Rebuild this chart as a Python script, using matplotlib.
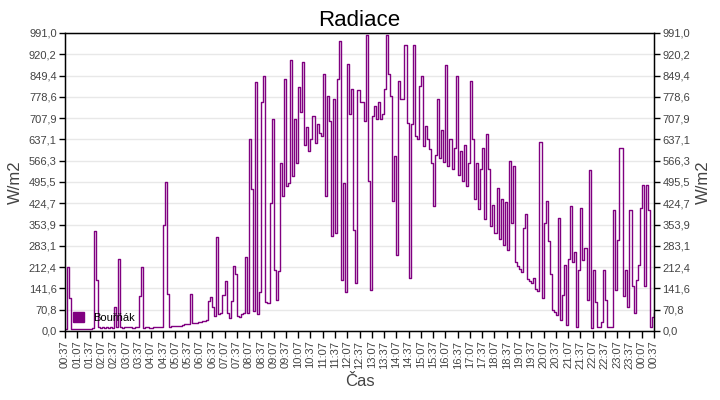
import numpy as np
import matplotlib
matplotlib.use('Agg')
import matplotlib.pyplot as plt
from matplotlib.patches import Patch

plt.rcParams['font.family'] = ['Liberation Sans', 'DejaVu Sans']

# radiace v W/m2, vzorek kazdych 5 minut od 00:37
sample_minutes = 5
radiation = [
    # 00:37
    8, 214, 111, 8, 8, 8, 8, 8, 8, 8, 8, 8,
    # 01:37
    8, 10, 332, 170, 12, 10, 12, 10, 12, 10, 12, 10,
    # 02:37
    81, 12, 239, 12, 10, 12, 14, 12, 12, 10, 12, 12,
    # 03:37
    116, 214, 10, 12, 12, 10, 10, 12, 12, 12, 12, 12,
    # 04:37
    352, 495, 122, 14, 15, 15, 16, 17, 18, 20, 22, 23,
    # 05:37
    24, 122, 26, 27, 28, 30, 31, 33, 34, 36, 100, 114,
    # 06:37
    80, 50, 313, 55, 60, 120, 165, 60, 42, 100, 215, 190,
    # 07:37
    50, 45, 55, 60, 246, 60, 638, 471, 65, 827, 55, 131,
    # 08:37
    760, 849, 95, 92, 426, 704, 204, 103, 200, 560, 448, 838,
    # 09:37
    482, 493, 902, 515, 704, 560, 810, 727, 894, 620, 680, 600,
    # 10:37
    640, 715, 626, 690, 660, 650, 855, 448, 782, 700, 315, 770,
    # 11:37
    326, 838, 966, 170, 493, 131, 888, 720, 805, 337, 159, 800,
    # 12:37
    760, 760, 700, 983, 500, 137, 716, 749, 705, 760, 705, 720,
    # 13:37
    805, 983, 855, 780, 432, 582, 254, 830, 770, 771, 950, 693,
    # 14:37
    176, 688, 950, 650, 640, 815, 849, 615, 682, 638, 604, 560,
    # 15:37
    415, 585, 771, 574, 670, 562, 883, 550, 640, 538, 610, 849,
    # 16:37
    520, 600, 500, 620, 482, 560, 832, 640, 440, 560, 405, 540,
    # 17:37
    610, 373, 654, 540, 348, 420, 327, 476, 306, 440, 286, 430,
    # 18:37
    268, 565, 360, 550, 228, 217, 206, 195, 343, 390, 174, 167,
    # 19:37
    158, 175, 141, 132, 627, 111, 360, 432, 300, 190, 71, 62,
    # 20:37
    53, 377, 35, 120, 220, 20, 240, 415, 230, 262, 14, 204,
    # 21:37
    410, 237, 276, 103, 537, 9, 204, 98, 13, 13, 31, 204,
    # 22:37
    103, 13, 13, 13, 404, 137, 304, 610, 610, 115, 204, 81,
    # 23:37
    404, 148, 59, 170, 220, 410, 487, 148, 487, 404, 14, 48, 60,
]

time_labels = [
    '00:37', '01:07', '01:37', '02:07', '02:37', '03:07', '03:37', '04:07',
    '04:37', '05:07', '05:37', '06:07', '06:37', '07:07', '07:37', '08:07',
    '08:37', '09:07', '09:37', '10:07', '10:37', '11:07', '11:37', '12:07',
    '12:37', '13:07', '13:37', '14:07', '14:37', '15:07', '15:37', '16:07',
    '16:37', '17:07', '17:37', '18:07', '18:37', '19:07', '19:37', '20:07',
    '20:37', '21:07', '21:37', '22:07', '22:37', '23:07', '23:37', '00:07',
    '00:37',
]

y_labels = ['0,0', '70,8', '141,6', '212,4', '283,1', '353,9', '424,7', '495,5',
            '566,3', '637,1', '707,9', '778,6', '849,4', '920,2', '991,0']
y_max = 991.0

series_name = 'Bouřňák'
line_color = '#800080'
text_color = '#444444'

hours = np.arange(len(radiation)) * sample_minutes / 60.0
x_ticks = np.arange(len(time_labels)) * 0.5
y_ticks = np.linspace(0, y_max, len(y_labels))

fig = plt.figure(figsize=(7.2, 4.0), dpi=100)
ax = fig.add_axes([65 / 720, 1 - 331 / 400, (654 - 65) / 720, (331 - 33) / 400])

ax.plot(hours, radiation, color=line_color, linewidth=1.0, drawstyle='steps-post')

ax.set_xlim(0, 24)
ax.set_ylim(0, y_max)
ax.set_xticks(x_ticks)
ax.set_xticklabels(time_labels, rotation=90, fontsize=8, color=text_color)
ax.set_yticks(y_ticks)
ax.set_yticklabels(y_labels, fontsize=8, color=text_color)
ax.tick_params(axis='x', length=5, width=1, pad=2)
ax.tick_params(axis='y', length=4, width=1, pad=2)
ax.grid(axis='y', color='#e8e8e8', linewidth=1)
ax.set_axisbelow(True)
for s in ax.spines.values():
    s.set_color('black')
    s.set_linewidth(1)

ax.set_title('Radiace', fontsize=16, pad=5)
ax.set_xlabel('Čas', fontsize=12, color=text_color, labelpad=4)
ax.set_ylabel('W/m2', fontsize=12, color=text_color, labelpad=4)

ax2 = ax.twinx()
ax2.set_ylim(0, y_max)
ax2.set_yticks(y_ticks)
ax2.set_yticklabels(y_labels, fontsize=8, color=text_color)
ax2.tick_params(axis='y', length=4, width=1, pad=2)
ax2.set_ylabel('W/m2', fontsize=12, color=text_color, labelpad=4)

ax.legend(handles=[Patch(facecolor=line_color, edgecolor=line_color, label=series_name)],
          loc='lower left', frameon=False, fontsize=8, handlelength=1.0, handleheight=1.0,
          handletextpad=0.8, borderaxespad=0.3)

fig.savefig('out.png', dpi=100)
